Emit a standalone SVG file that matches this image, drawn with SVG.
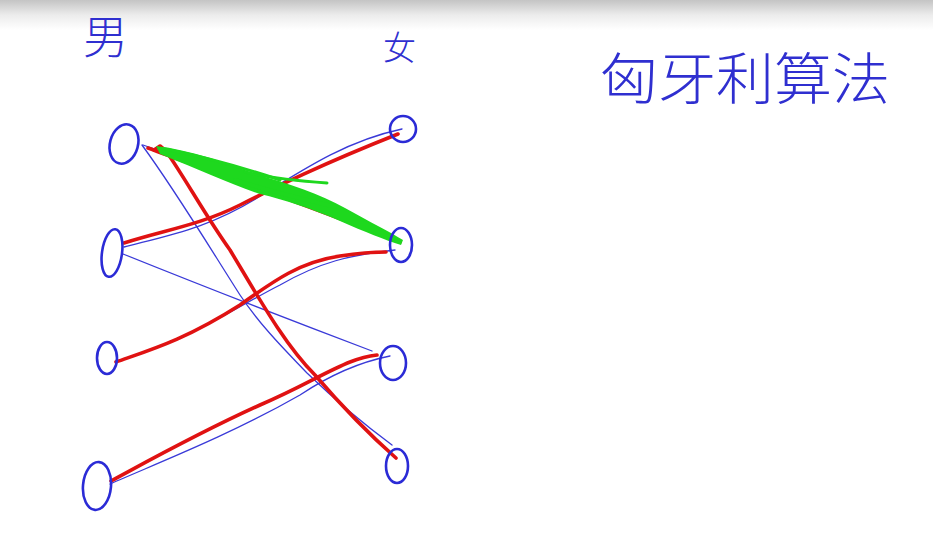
<svg xmlns="http://www.w3.org/2000/svg" width="933" height="558" viewBox="0 0 933 558">
<defs>
<linearGradient id="topfade" x1="0" y1="0" x2="0" y2="1">
<stop offset="0" stop-color="#c4c4c4"/>
<stop offset="0.5" stop-color="#ececec"/>
<stop offset="1" stop-color="#ffffff"/>
</linearGradient>
</defs>
<style>
.node{fill:none;stroke:#2b2bd6;stroke-width:2.6}
.edge{fill:none;stroke:#3a3ad8;stroke-width:1.3;stroke-linecap:round}
.match{fill:none;stroke:#e01212;stroke-width:3.6;stroke-linecap:round;stroke-linejoin:round}
.del{fill:none;stroke:#1ed81e;stroke-linecap:round;stroke-linejoin:round}
.delfill{fill:#1ed81e}
.hand{fill:#2f2fd0;font-family:"Noto Sans CJK SC","Noto Sans CJK JP",sans-serif;font-weight:300}
</style>
<rect width="933" height="558" fill="#ffffff"/>
<rect width="933" height="30" fill="url(#topfade)"/>

<text class="hand" x="83" y="54" font-size="45">男</text>
<text class="hand" x="383" y="60" font-size="33">女</text>
<text class="hand" x="600" y="99" font-size="56" textLength="290" lengthAdjust="spacingAndGlyphs">匈牙利算法</text>

<g id="connectors">
<path class="edge" d="M142,145 C175,190 205,240 240,295 C262,328 290,355 307,373 C335,400 365,425 392,445"/>
<path class="edge" d="M143,145 C230,175 320,210 398,240"/>
<path class="edge" d="M124,247 C170,235 210,228 262,195 C310,165 350,140 402,129"/>
<path class="edge" d="M123,254 C200,285 290,320 372,351"/>
<path class="edge" d="M116,362 C190,340 240,305 280,285 C320,262 350,255 395,250"/>
<path class="edge" d="M110,484 C160,462 230,435 300,395 C330,375 360,362 390,356"/>

<path class="match" d="M124,243 C165,230 200,225 240,205 C280,185 320,165 398,134"/>
<path class="match" d="M116,362 C150,350 185,340 240,305 C275,280 300,262 340,256 C360,253 372,252 386,252"/>
<path class="match" d="M111,481 C150,460 200,432 260,405 C300,388 325,372 350,362 C360,358 368,356 377,355"/>
<path class="match" d="M148,148 C230,178 320,210 400,242"/>
<path class="match" d="M154,150 L160,146 L166,151 C185,178 205,215 230,250 C260,300 285,345 315,375 C345,410 370,435 396,458"/>

<path class="delfill" d="M156,146 C190,150 225,162 255,174 C290,184 320,194 345,208 C370,222 390,232 403,240 L401,245 C385,240 365,232 340,221 C310,208 285,200 260,194 C230,184 200,170 160,154 Z"/>
<path class="del" stroke-width="3" d="M245,172 C270,178 300,181 327,183"/>
<path class="del" stroke-width="4" d="M235,180 C265,190 300,198 335,207"/>
<path class="del" stroke-width="3" d="M165,149 C210,158 250,170 280,180"/>
</g>

<g id="m1"><ellipse class="node" cx="124" cy="144" rx="14" ry="20" transform="rotate(15 124 144)"/></g>
<g id="m2"><ellipse class="node" cx="112" cy="253" rx="10" ry="24" transform="rotate(8 112 253)"/></g>
<g id="m3"><ellipse class="node" cx="107" cy="358" rx="10" ry="16"/></g>
<g id="m4"><ellipse class="node" cx="97" cy="486" rx="14" ry="24" transform="rotate(5 97 486)"/></g>

<g id="f1"><ellipse class="node" cx="403" cy="129" rx="13" ry="13"/></g>
<g id="f2"><ellipse class="node" cx="401" cy="245" rx="11" ry="17"/></g>
<g id="f3"><ellipse class="node" cx="393" cy="363" rx="13" ry="17"/></g>
<g id="f4"><ellipse class="node" cx="397" cy="466" rx="11" ry="17"/></g>
</svg>
